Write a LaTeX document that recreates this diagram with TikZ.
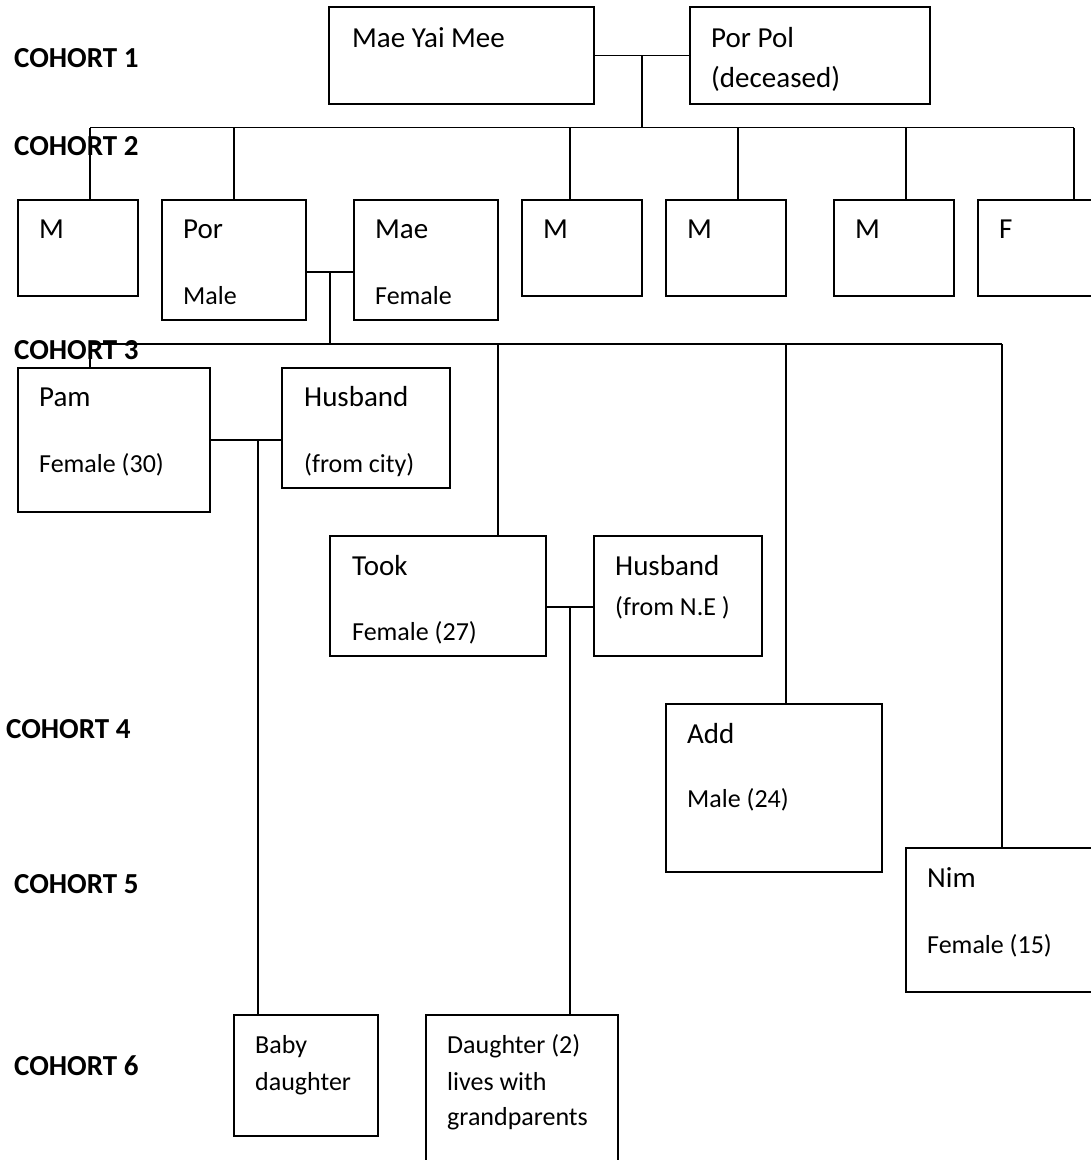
\documentclass[tikz,border=0pt]{standalone}
\usepackage{fontspec}
\setmainfont{Carlito}
\usetikzlibrary{calc}

\tikzset{
  person/.style={draw,line width=1.8pt,anchor=north west,inner sep=0pt,outer sep=0pt},
  bigtxt/.style={font=\fontsize{29}{35}\selectfont,anchor=base west,inner sep=0pt},
  smalltxt/.style={font=\fontsize{26}{31}\selectfont,anchor=base west,inner sep=0pt},
  cohort/.style={font=\fontsize{29}{35}\selectfont\bfseries,anchor=base west,inner sep=0pt},
  link/.style={line width=1.8pt}
}

\begin{document}
\begin{tikzpicture}[x=1pt,y=-1pt]
\useasboundingbox (0,0) rectangle (1091,1160);
\clip (0,0) rectangle (1091,1160);

% cohort labels
\node[cohort] (c1) at (14,67) {COHORT 1};
\node[cohort] (c2) at (14,155) {COHORT 2};
\node[cohort] (c3) at (14,359) {COHORT 3};
\node[cohort] (c4) at (6,738) {COHORT 4};
\node[cohort] (c5) at (14,893) {COHORT 5};
\node[cohort] (c6) at (14,1075) {COHORT 6};

% cohort 1
\node[person,minimum width=265pt,minimum height=97pt] (mym) at (329,7) {};
\node[bigtxt] at ([shift={(23,40)}]mym.north west) {Mae Yai Mee};
\node[person,minimum width=240pt,minimum height=97pt] (porpol) at (690,7) {};
\node[bigtxt] at ([shift={(21,40)}]porpol.north west) {Por Pol};
\node[bigtxt] at ([shift={(21,80)}]porpol.north west) {(deceased)};

% cohort 2
\foreach \n/\x/\t in {ma/18/M,mb/522/M,mc/666/M,md/834/M,f/978/F}{
  \node[person,minimum width=120pt,minimum height=96pt] (\n) at (\x,200) {};
  \node[bigtxt] at ([shift={(21,38)}]\n.north west) {\t};
}
\node[person,minimum width=144pt,minimum height=120pt] (por) at (162,200) {};
\node[bigtxt] at ([shift={(21,38)}]por.north west) {Por};
\node[smalltxt] at ([shift={(21,104)}]por.north west) {Male};
\node[person,minimum width=144pt,minimum height=120pt] (mae) at (354,200) {};
\node[bigtxt] at ([shift={(21,38)}]mae.north west) {Mae};
\node[smalltxt] at ([shift={(21,104)}]mae.north west) {Female};

% cohort 3 and below
\node[person,minimum width=192pt,minimum height=144pt] (pam) at (18,368) {};
\node[bigtxt] at ([shift={(21,38)}]pam.north west) {Pam};
\node[smalltxt] at ([shift={(21,104)}]pam.north west) {Female (30)};
\node[person,minimum width=168pt,minimum height=120pt] (husa) at (282,368) {};
\node[bigtxt] at ([shift={(22,38)}]husa.north west) {Husband};
\node[smalltxt] at ([shift={(22,104)}]husa.north west) {(from city)};

\node[person,minimum width=216pt,minimum height=120pt] (took) at (330,536) {};
\node[bigtxt] at ([shift={(22,39)}]took.north west) {Took};
\node[smalltxt] at ([shift={(22,104)}]took.north west) {Female (27)};
\node[person,minimum width=168pt,minimum height=120pt] (husb) at (594,536) {};
\node[bigtxt] at ([shift={(21,39)}]husb.north west) {Husband};
\node[smalltxt] at ([shift={(21,79)}]husb.north west) {(from N.E )};

\node[person,minimum width=216pt,minimum height=168pt] (add) at (666,704) {};
\node[bigtxt] at ([shift={(21,39)}]add.north west) {Add};
\node[smalltxt] at ([shift={(21,103)}]add.north west) {Male (24)};

\node[person,minimum width=204pt,minimum height=144pt] (nim) at (906,848) {};
\node[bigtxt] at ([shift={(21,39)}]nim.north west) {Nim};
\node[smalltxt] at ([shift={(21,105)}]nim.north west) {Female (15)};

\node[person,minimum width=144pt,minimum height=121pt] (baby) at (234,1015) {};
\node[smalltxt] at ([shift={(21,38)}]baby.north west) {Baby};
\node[smalltxt] at ([shift={(21,75)}]baby.north west) {daughter};
\node[person,minimum width=192pt,minimum height=160pt] (dau) at (426,1015) {};
\node[smalltxt] at ([shift={(21,38)}]dau.north west) {Daughter (2)};
\node[smalltxt] at ([shift={(21,75)}]dau.north west) {lives with};
\node[smalltxt] at ([shift={(21,110)}]dau.north west) {grandparents};

% links
\draw[link] (mym.east) -- (porpol.west);
\coordinate (k1) at ($(mym.east)!0.5!(porpol.west)$);
\draw[link] (k1) -- ++(0,72) coordinate (b2);
\draw[link] ([xshift=72pt]ma.north west |- b2) -- ([xshift=96pt]f.north west |- b2);
\foreach \n/\dx in {ma/72,por/72,mb/48,mc/72,md/72,f/96}
  \draw[link] ([xshift=\dx pt]\n.north west) -- ([xshift=\dx pt]\n.north west |- b2);

\draw[link] ([yshift=-12pt]por.east) -- ([yshift=-12pt]por.east -| mae.west) coordinate (m2);
\coordinate (k2) at ($([yshift=-12pt]por.east)!0.5!(m2)$);
\draw[link] (k2) -- ++(0,72) coordinate (b3);
\draw[link] ([xshift=72pt]pam.north west |- b3) -- ([xshift=96pt]nim.north west |- b3);
\foreach \n/\dx in {pam/72,took/168,add/120,nim/96}
  \draw[link] ([xshift=\dx pt]\n.north west) -- ([xshift=\dx pt]\n.north west |- b3);

\draw[link] (pam.east) -- (pam.east -| husa.west);
\draw[link] ([xshift=24pt]baby.north west) -- ([xshift=24pt]baby.north west |- pam.east);

\draw[link] ([yshift=-11pt]took.east) -- ([yshift=-11pt]took.east -| husb.west) coordinate (m4);
\coordinate (k4) at ($([yshift=-11pt]took.east)!0.5!(m4)$);
\draw[link] (k4) -- (k4 |- dau.north);
\end{tikzpicture}
\end{document}
